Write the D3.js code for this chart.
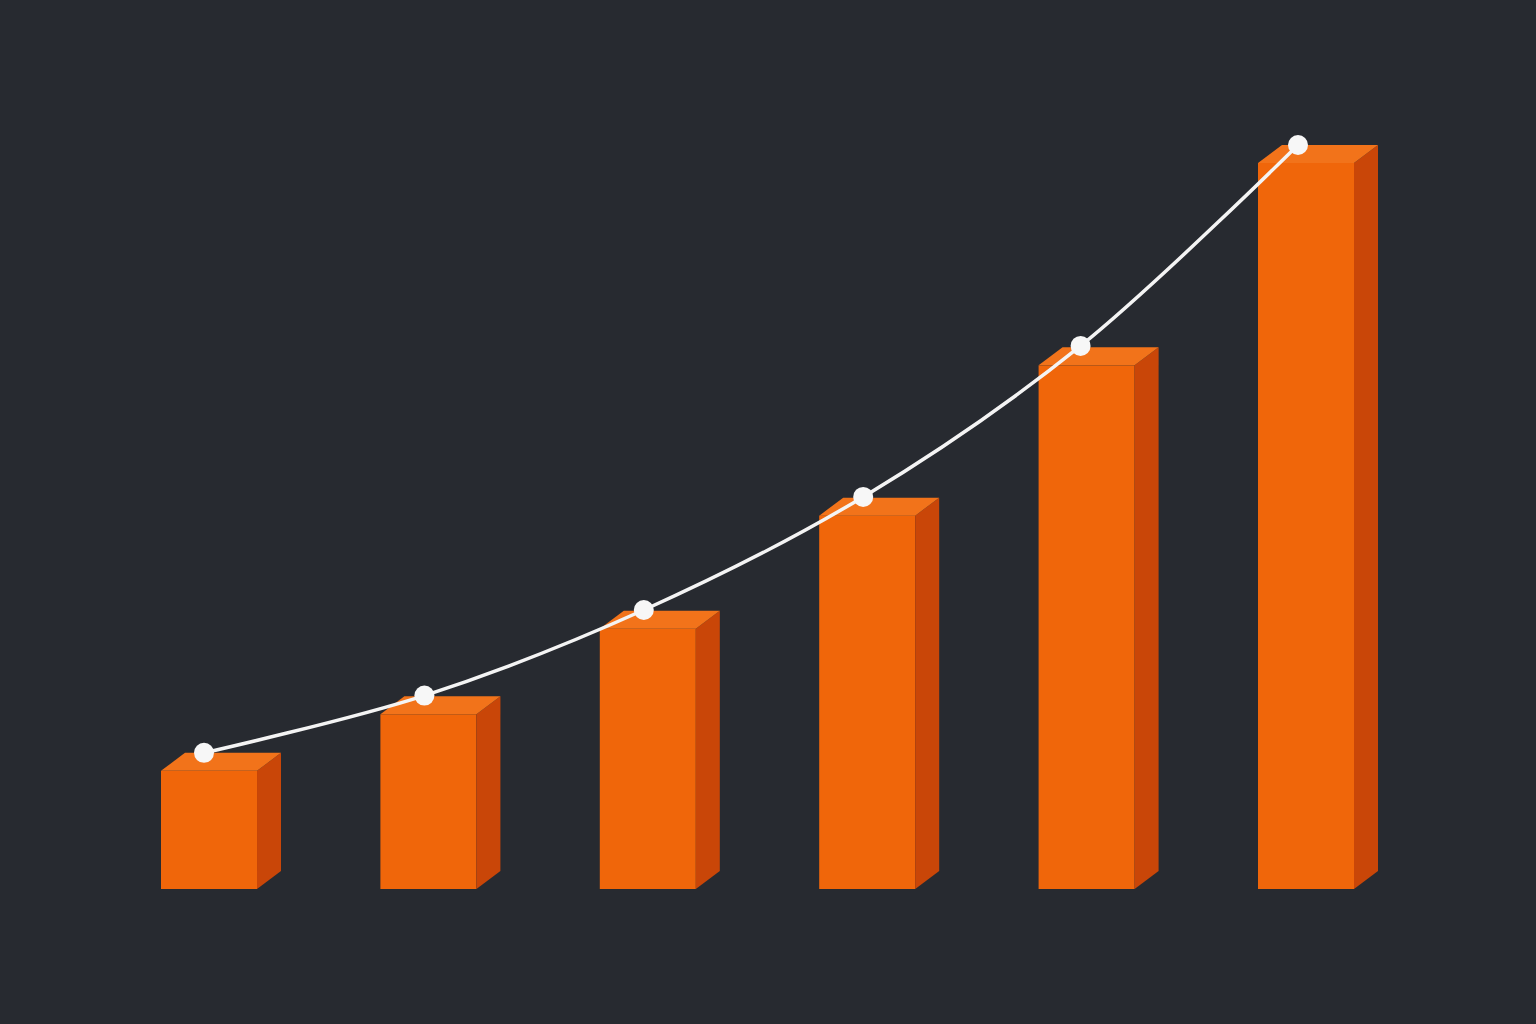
<!DOCTYPE html>
<html>
<head>
<meta charset="utf-8">
<script src="https://cdn.jsdelivr.net/npm/d3@7"></script>
<style>
  html, body { margin: 0; padding: 0; background: #272a30; }
  svg { display: block; }
</style>
</head>
<body>
<svg width="1536" height="1024"></svg>
<script>
// --- Data ---
const periods = ["P1", "P2", "P3", "P4", "P5", "P6"];
const barValues = [18.3, 25.9, 37.4, 52.6, 72.8, 100];
const lineValues = [18.3, 26.0, 37.5, 52.7, 73.0, 100];
const dotShift = [-5, -4, -4, -4, -6, -8];

// --- Setup ---
const svg = d3.select("svg"),
    width = +svg.attr("width"),
    height = +svg.attr("height");

svg.append("rect")
    .attr("width", width)
    .attr("height", height)
    .attr("fill", "#272a30");

const depthX = 24, depthY = 18;

const x = d3.scaleBand()
    .domain(periods)
    .range([161, 1354])
    .paddingInner(0.5624)
    .paddingOuter(0);

const y = d3.scaleLinear()
    .domain([0, 100])
    .range([889, 145]);

// --- Bars (front, side, top) ---
const bars = svg.append("g").attr("class", "bars")
    .selectAll("g")
    .data(periods.map((p, i) => ({ p, v: barValues[i] })))
    .enter().append("g");

bars.append("rect")
    .attr("x", d => x(d.p))
    .attr("y", d => y(d.v) + depthY)
    .attr("width", x.bandwidth())
    .attr("height", d => y(0) - y(d.v) - depthY)
    .attr("fill", "#f0660a");

bars.append("path")
    .attr("d", d => {
        const x1 = x(d.p) + x.bandwidth(), top = y(d.v) + depthY, base = y(0);
        return `M${x1},${top} L${x1 + depthX},${top - depthY} L${x1 + depthX},${base - depthY} L${x1},${base} Z`;
    })
    .attr("fill", "#c94608");

bars.append("path")
    .attr("d", d => {
        const x0 = x(d.p), x1 = x0 + x.bandwidth(), top = y(d.v) + depthY;
        return `M${x0},${top} L${x0 + depthX},${top - depthY} L${x1 + depthX},${top - depthY} L${x1},${top} Z`;
    })
    .attr("fill", "#f2731a");

// --- Line ---
const lx = (d, i) => x(d.p) + x.bandwidth() / 2 + dotShift[i];

const pts = periods.map((p, i) => ({ p, v: lineValues[i] }));

const line = d3.line()
    .x(lx)
    .y(d => y(d.v))
    .curve(d3.curveCatmullRom.alpha(0.5));

svg.append("path")
    .datum(pts)
    .attr("d", line)
    .attr("fill", "none")
    .attr("stroke", "#f4f4f4")
    .attr("stroke-width", 3.5);

svg.append("g").selectAll("circle")
    .data(pts)
    .enter().append("circle")
    .attr("cx", lx)
    .attr("cy", d => y(d.v))
    .attr("r", 10)
    .attr("fill", "#f7f7f7");
</script>
</body>
</html>
